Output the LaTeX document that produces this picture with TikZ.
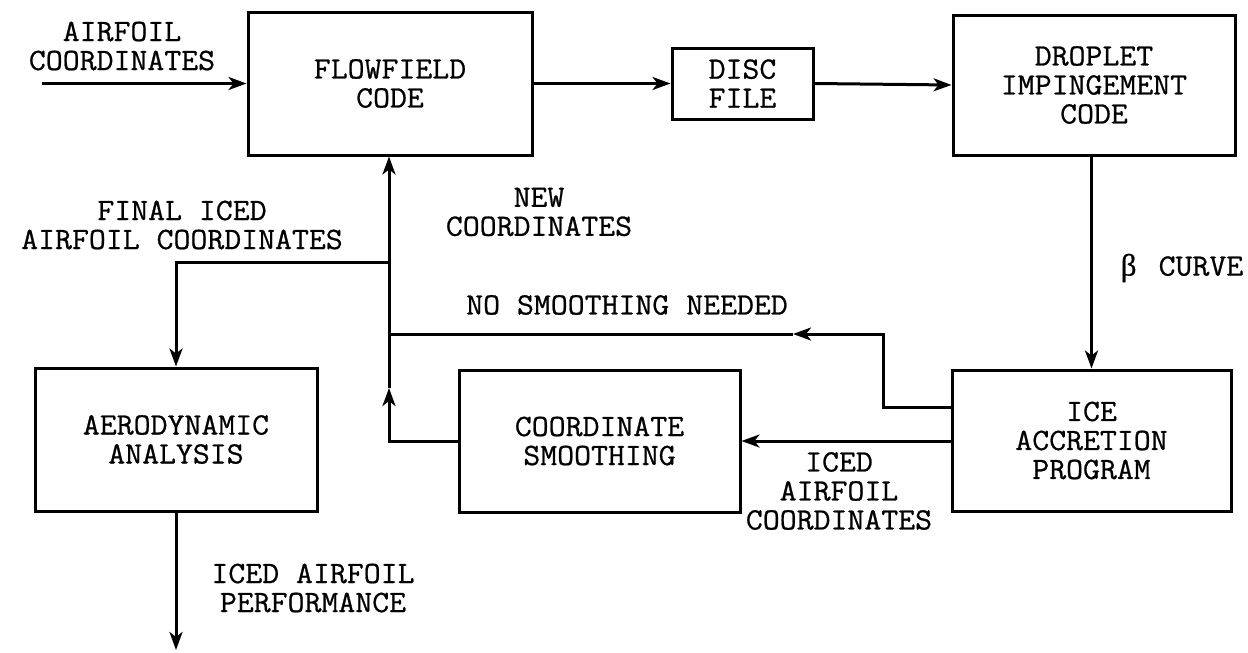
\documentclass[tikz,border=0pt]{standalone}
\usepackage{fontspec}
\usetikzlibrary{arrows.meta}
\newfontfamily\betafont{Liberation Serif}[FakeBold=0.6]
\newfontfamily\chartfam{Latin Modern Mono}[FakeBold=0.7, FakeStretch=1.06]
\newcommand{\chartfont}{\chartfam\fontsize{31}{29}\selectfont}
\tikzset{
    block/.style={draw, line width=3pt, inner sep=0pt, align=center, font=\chartfont},
    linklabel/.style={align=center, font=\chartfont, inner sep=0pt},
    flowline/.style={line width=3pt, -{Stealth[length=18pt, width=13pt, inset=5pt]}},
    plainline/.style={line width=3pt}
}

\begin{document}
\begin{tikzpicture}[x=1pt, y=-1pt]
        \fill[white] (0,0) rectangle (1248,653);
        \useasboundingbox (0,0) rectangle (1248,653);

        % ---------------- Blocks ----------------
        \node[block, minimum width=284pt, minimum height=143pt] (flow) at (390,83.5) {FLOWFIELD\\CODE};
        \node[block, minimum width=141pt, minimum height=71pt] (disc) at (742.5,83.5) {DISC\\FILE};
        \node[block, minimum width=282pt, minimum height=140pt] (drop) at (1094,85) {DROPLET\\IMPINGEMENT\\CODE};
        \node[block, minimum width=279pt, minimum height=141pt] (ice) at (1091.5,440.5) {ICE\\ACCRETION\\PROGRAM};
        \node[block, minimum width=281pt, minimum height=142pt] (smooth) at (599.5,441) {COORDINATE\\SMOOTHING};
        \node[block, minimum width=282pt, minimum height=143pt] (aero) at (176,439.5) {AERODYNAMIC\\ANALYSIS};

        % ---------------- Junctions ----------------
        \coordinate (start) at (42,83.5);
        \coordinate (upTip) at (389,388);
        \coordinate (loopBase) at (389,441);
        \coordinate (branch) at (389,262);
        \coordinate (nsBend) at (883,407);
        \coordinate (nsTip) at (793,334);
        \coordinate (nsEnd) at (389,334);
        \coordinate (finish) at (176,650);

        % ---------------- Main chain ----------------
        \draw[flowline] (start) -- (flow.west);
        \draw[flowline] (flow.east) -- (disc.west);
        \draw[flowline] (disc.east) -- (drop.west);
        \draw[flowline] (drop.south -| ice.north) -- (ice.north);
        \draw[flowline] (ice.west |- loopBase) -- (smooth.east |- loopBase);

        % Smoothing loop back to the flowfield code
        \draw[flowline] (smooth.west |- loopBase) -- (loopBase) -- (upTip);
        \draw[flowline] (upTip) -- (flow.south -| upTip);

        % No smoothing needed
        \draw[flowline] (ice.west |- nsBend) -- (nsBend) |- (nsTip);
        \draw[plainline] (nsTip) -- (nsEnd);

        % Final coordinates to the analysis
        \draw[flowline] (branch) -| (aero.north);
        \draw[flowline] (aero.south) -- (finish);

        % ---------------- Labels ----------------
        \node[linklabel] (lblIn) at (122,46) {AIRFOIL\\COORDINATES};
        \node[linklabel] (lblNew) at (539,212) {NEW\\COORDINATES};
        \node[linklabel] (lblFinal) at (182,225) {FINAL ICED\\AIRFOIL COORDINATES};
        \node[linklabel] (lblNone) at (627,305) {NO SMOOTHING NEEDED};
        \node[linklabel] (lblBeta) at (1182,268) {{\betafont\fontsize{31}{29}\selectfont β}\, CURVE};
        \node[linklabel] (lblIced) at (839,491) {ICED\\AIRFOIL\\COORDINATES};
        \node[linklabel] (lblPerf) at (313,588) {ICED AIRFOIL\\PERFORMANCE};
    \end{tikzpicture}
\end{document}
